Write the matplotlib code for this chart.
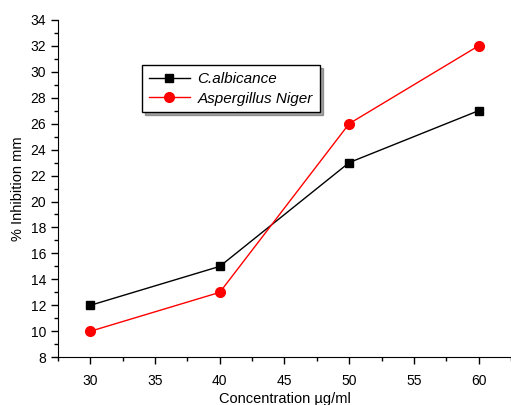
import matplotlib.pyplot as plt
from matplotlib.ticker import MultipleLocator

plt.rcParams['font.family'] = ['Liberation Sans', 'DejaVu Sans']

concentration = [30, 40, 50, 60]
c_albicance = [12, 15, 23, 27]
aspergillus_niger = [10, 13, 26, 32]

fig = plt.figure(figsize=(5.11, 4.05), dpi=100)
ax = fig.add_axes([0.1135, 0.118, 0.8865, 0.833])

ax.plot(concentration, c_albicance, color='black', lw=1, marker='s', ms=6,
        label='C.albicance')
ax.plot(concentration, aspergillus_niger, color='red', lw=1, marker='o', ms=7,
        label='Aspergillus Niger')

ax.set_xlim(27.5, 62.5)
ax.set_ylim(8, 34)
ax.xaxis.set_major_locator(MultipleLocator(5))
ax.xaxis.set_minor_locator(MultipleLocator(2.5))
ax.yaxis.set_major_locator(MultipleLocator(2))
ax.yaxis.set_minor_locator(MultipleLocator(1))
ax.tick_params(which='major', direction='out', length=5, width=1, labelsize=10)
ax.tick_params(axis='x', which='major', pad=7)
ax.tick_params(which='minor', direction='out', length=3, width=1)

ax.spines['top'].set_visible(False)
ax.spines['right'].set_visible(False)

ax.set_xlabel('Concentration µg/ml', fontsize=10.5, labelpad=3)
ax.set_ylabel('% Inhibition mm', fontsize=10.5, labelpad=4)

leg = ax.legend(loc='upper left', bbox_to_anchor=(0.185, 0.865), borderaxespad=0,
                fancybox=False, shadow=True, edgecolor='black',
                prop={'style': 'italic', 'size': 11}, handlelength=2.7,
                borderpad=0.45, labelspacing=0.35, handletextpad=0.5)
leg.get_frame().set_linewidth(1)

fig.savefig('out.png', dpi=100)
